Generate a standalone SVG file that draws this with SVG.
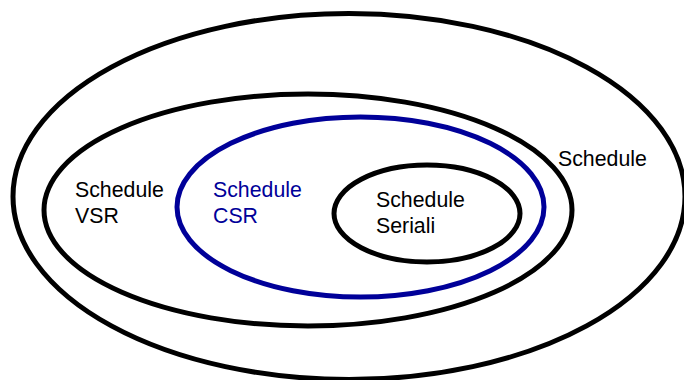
<svg xmlns="http://www.w3.org/2000/svg" width="684" height="380" viewBox="0 0 684 380">
  <style>
    .set { fill: none; stroke: #000000; stroke-width: 5; }
    .csr { stroke: #000099; }
    .lbl { font-family: "Liberation Sans", Arial, sans-serif; font-size: 21.3px; fill: #000000; }
    .blue { fill: #000099; }
  </style>
  <rect width="684" height="380" fill="#ffffff"/>
  <g id="schedule">
    <ellipse class="set" cx="349" cy="196.5" rx="336" ry="183"/>
    <text class="lbl" x="558" y="166">Schedule</text>
  </g>
  <g id="schedule-vsr">
    <ellipse class="set" cx="308" cy="210" rx="264" ry="116"/>
    <text class="lbl" x="75" y="197">Schedule</text>
    <text class="lbl" x="75" y="223">VSR</text>
  </g>
  <g id="schedule-csr">
    <ellipse class="set csr" cx="360.5" cy="207" rx="183.5" ry="90"/>
    <text class="lbl blue" x="213" y="197">Schedule</text>
    <text class="lbl blue" x="213" y="223">CSR</text>
  </g>
  <g id="schedule-seriali">
    <ellipse class="set" cx="427" cy="213.5" rx="93" ry="48.5"/>
    <text class="lbl" x="376" y="207">Schedule</text>
    <text class="lbl" x="376" y="233">Seriali</text>
  </g>
</svg>
